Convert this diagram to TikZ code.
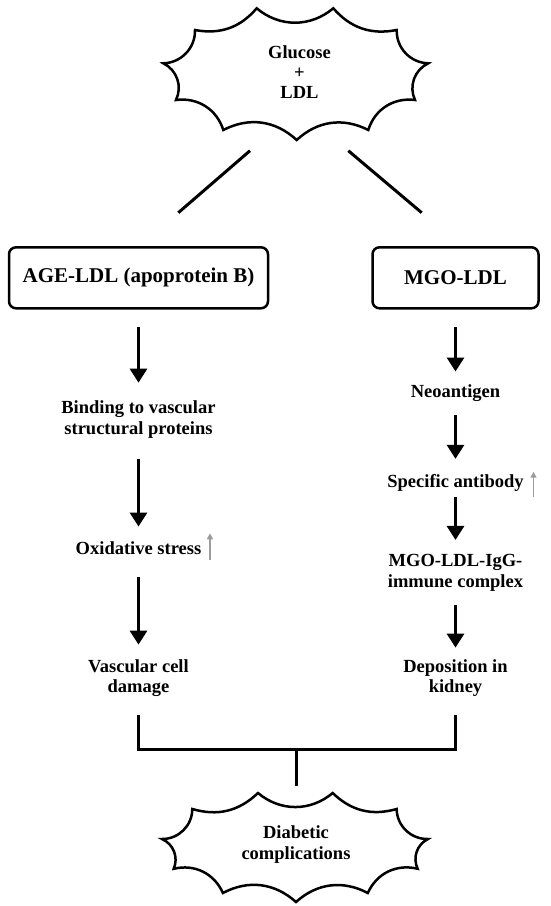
\documentclass[tikz,border=0pt]{standalone}
\usepackage{fontspec}
\setmainfont{Liberation Serif}
\usetikzlibrary{arrows.meta}
\definecolor{upgray}{HTML}{9C9C9C}
\begin{document}
\begin{tikzpicture}[x=1pt,y=-1pt,
  txt/.style={font=\fontsize{18.5}{20.5}\selectfont\bfseries, align=center, inner sep=0pt},
  oneline/.style={txt, text height=12.6pt, text depth=3.9pt},
  box/.style={draw, line width=2.5pt, rounded corners=7pt, inner sep=0pt, minimum height=61pt, font=\fontsize{21}{24}\selectfont\bfseries},
  arr/.style={line width=3pt, -{Triangle[width=17pt,length=14pt]}},
  conn/.style={line width=3pt},
  burst/.style={line width=2.5pt},
  grayarr/.style={draw=upgray, line width=1.6pt, -{Triangle[width=6pt,length=6pt]}}]
\useasboundingbox (0,0) rectangle (550,906);

% top burst
\draw[burst] (256.7,8.3) to[bend right=40] (333.3,8.3) to[bend right=30] (396.7,30)
  to[bend right=45] (428.3,63.3) to[bend right=45] (415,100) to[bend right=40] (368.3,130)
  to[bend right=35] (296.7,140) to[bend right=35] (223.3,130) to[bend right=40] (176,100)
  to[bend right=45] (163.3,63.3) to[bend right=45] (195,30) to[bend right=30] (256.7,8.3) -- cycle;
\node[txt, font=\fontsize{18.5}{20}\selectfont\bfseries] (glu) at (299.5,72.5) {Glucose\\+\\LDL};

% diagonals
\coordinate (d1a) at (250,150.7);
\coordinate (d1b) at (178.3,212.7);
\coordinate (d2a) at (348.3,150.7);
\coordinate (d2b) at (421.7,212.7);
\draw[conn] (d1a) -- (d1b);
\draw[conn] (d2a) -- (d2b);

% boxes
\node[box, minimum width=259pt] (age) at (138.5,277.8) {AGE-LDL (apoprotein B)};
\node[box, minimum width=166pt] (mgo) at (455.5,277.8) {MGO-LDL};

% left column
\node[txt] (bind) at (138.5,419.3) {Binding to vascular\\structural proteins};
\node[oneline] (ox) at (138.5,550) {Oxidative stress};
\node[txt] (vasc) at (138.5,678) {Vascular cell\\damage};

% right column
\node[oneline] (neo) at (455.5,392.7) {Neoantigen};
\node[oneline] (spec) at (455.5,483.3) {Specific antibody};
\node[txt] (igg) at (455.5,573) {MGO-LDL-IgG-\\immune complex};
\node[txt] (dep) at (455.5,678) {Deposition in\\kidney};

% arrows left
\draw[arr, shorten <=17.7pt, shorten >=17.8pt] (age) -- (bind);
\draw[arr, shorten <=20.5pt, shorten >=15pt] (bind) -- (ox);
\draw[arr, shorten <=18.75pt, shorten >=14.5pt] (ox) -- (vasc);

% arrows right
\draw[arr, shorten <=17.7pt, shorten >=12.75pt] (mgo) -- (neo);
\draw[arr, shorten <=14pt, shorten >=16pt] (neo) -- (spec);
\draw[arr, shorten <=5.5pt, shorten >=14.5pt] (spec) -- (igg);
\draw[arr, shorten <=13.5pt, shorten >=11.5pt] (igg) -- (dep);

% gray up arrows
\draw[grayarr] ([xshift=8.5pt,yshift=-10pt]ox.east) -- ([xshift=8.5pt,yshift=16.7pt]ox.east);
\draw[grayarr] ([xshift=9.7pt,yshift=-13.4pt]spec.east) -- ([xshift=9.7pt,yshift=11.6pt]spec.east);

% bracket
\coordinate (jn) at (296,749);
\draw[conn, shorten <=18pt, shorten >=18pt] (vasc.south) |- (jn) -| (dep.south);

% bottom burst
\draw[burst] (258,793) to[bend right=40] (332.7,793) to[bend right=30] (396.6,809)
  to[bend right=45] (428,839) to[bend right=45] (417.7,868.8) to[bend right=40] (367.8,893)
  to[bend right=35] (296,902) to[bend right=35] (222.9,893) to[bend right=40] (173.7,868.8)
  to[bend right=45] (162,839) to[bend right=45] (192.3,809) to[bend right=30] (258,793) -- cycle;
\node[txt] (diab) at (296,844.6) {Diabetic\\complications};
\draw[conn, shorten >=40pt] (jn) -- (diab);
\end{tikzpicture}
\end{document}
